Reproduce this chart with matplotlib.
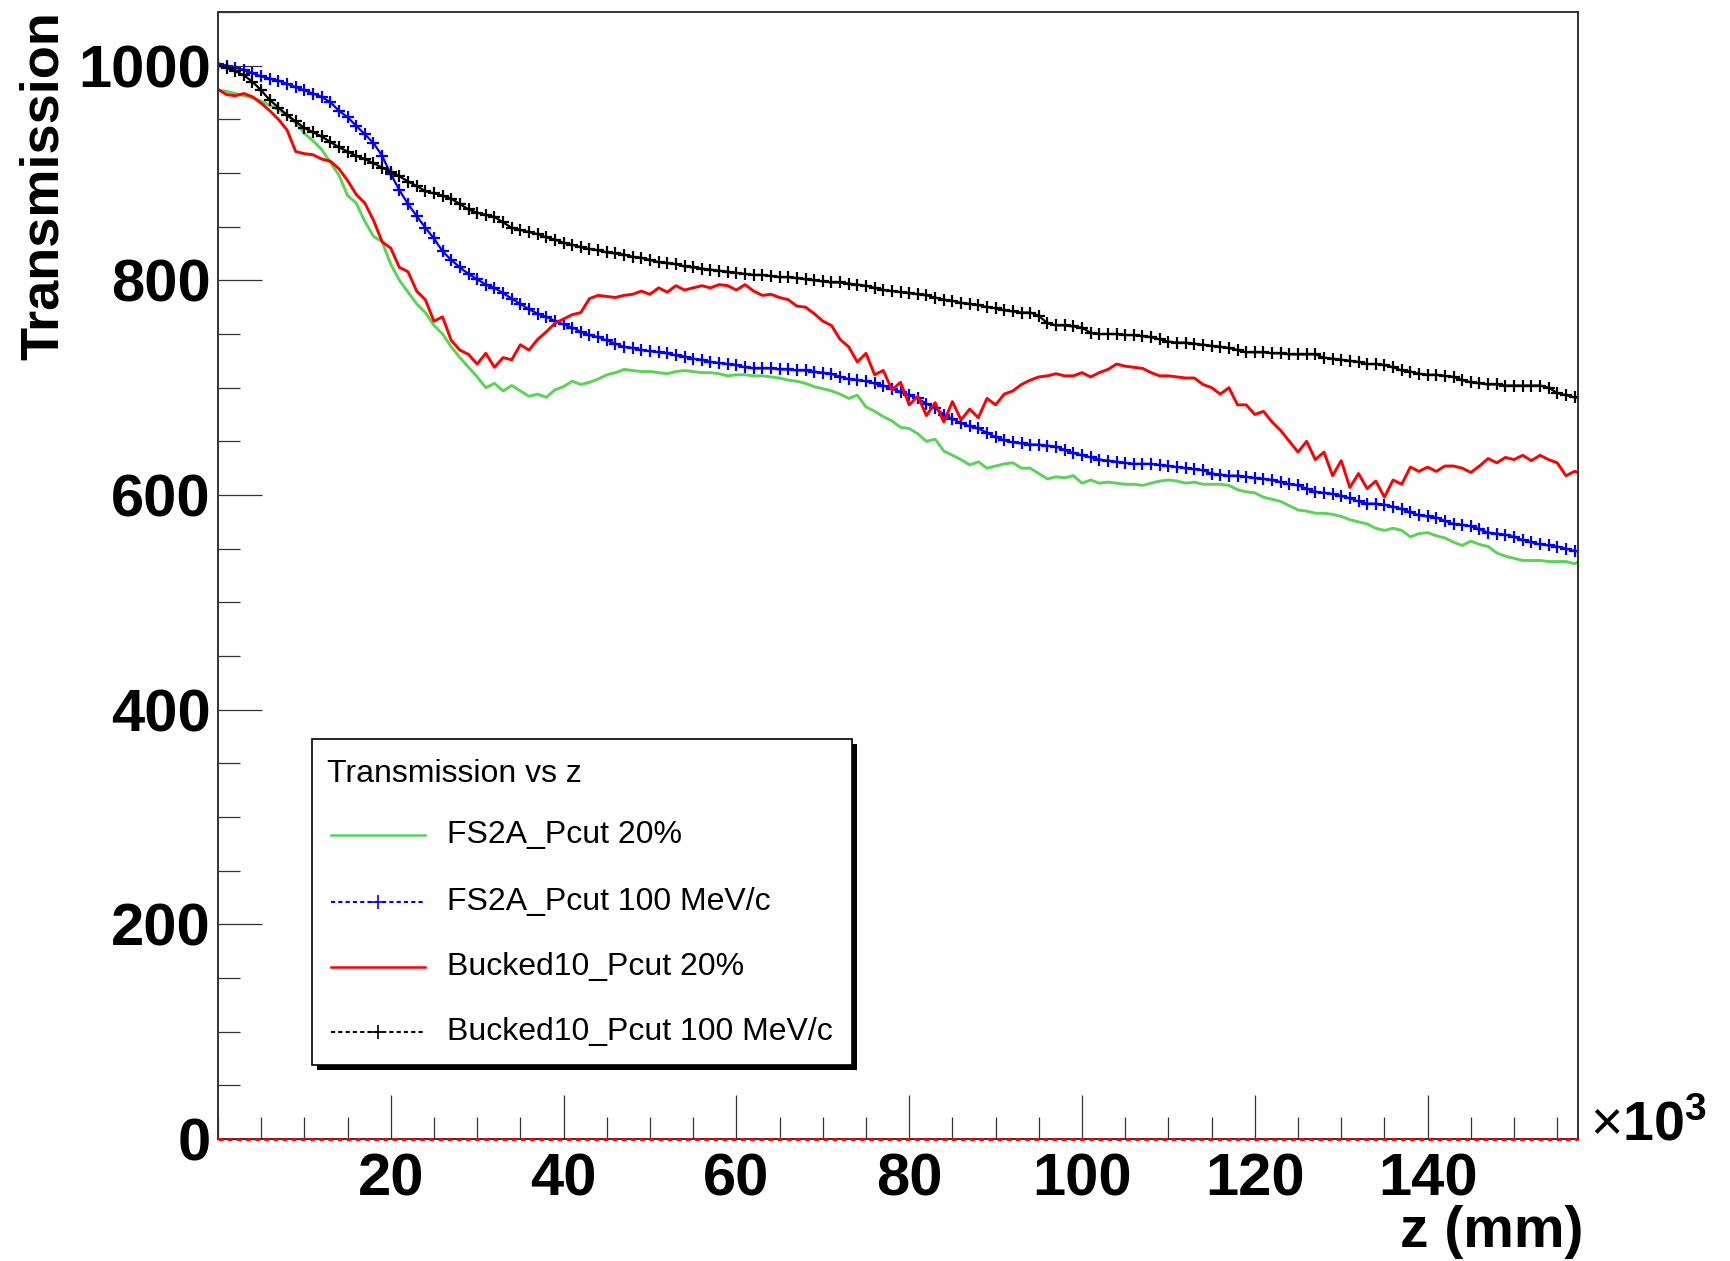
import matplotlib
matplotlib.use('Agg')
import matplotlib.pyplot as plt
from matplotlib.lines import Line2D
from matplotlib.patches import Rectangle
from matplotlib.ticker import MultipleLocator

plt.rcParams['font.family'] = ['Liberation Sans', 'DejaVu Sans']
plt.rcParams['mathtext.fontset'] = 'custom'
plt.rcParams['mathtext.rm'] = 'Liberation Sans'
plt.rcParams['mathtext.bf'] = 'Liberation Sans:bold'

# z position in units of 10^3 mm, one sample per unit
z = list(range(159))

fs2a_20 = [
    977, 976, 974, 972, 970, 967, 963, 959, 954, 947, 937, 930, 922, 910, 898, 879,
    872, 855, 841, 836, 815, 800, 789, 778, 770, 758, 750, 738, 728, 719, 710, 700,
    704, 697, 702, 697, 692, 694, 691, 698, 701, 706, 703, 705, 708, 712, 714, 717,
    716, 715, 715, 714, 713, 715, 716, 715, 714, 714, 713, 711, 712, 712, 711,
    711, 710, 709, 707, 706, 704, 701, 699, 697, 694, 690, 693, 682, 678, 673, 669,
    663, 662, 657, 650, 652, 641, 637, 633, 628, 631, 625, 627, 629, 630, 625, 625,
    620, 615, 617, 616, 618, 611, 614, 611, 612, 611, 610, 610, 609, 611, 613, 614,
    613, 611, 612, 610, 610, 610, 609, 605, 603, 602, 598, 596, 594, 590, 586,
    585, 583, 583, 582, 580, 577, 575, 573, 569, 567, 569, 567, 561, 564, 565, 562,
    560, 556, 553, 557, 554, 552, 546, 543, 541, 539, 539, 539, 538, 538, 538, 536, 540,
]

fs2a_100 = [
    1002, 1000, 998, 996, 993, 990, 988, 986, 983, 980, 977, 974, 971, 966, 958, 952,
    944, 936, 928, 916, 899, 884, 871, 860, 849, 839, 827, 819, 812, 806, 801, 796,
    793, 788, 783, 778, 773, 769, 766, 762, 759, 756, 752, 749, 747, 744, 741, 738,
    737, 735, 734, 733, 732, 730, 729, 727, 726, 724, 723, 722, 721, 719, 718,
    718, 718, 717, 717, 716, 716, 715, 714, 713, 710, 708, 707, 706, 704, 702, 699,
    696, 693, 690, 685, 681, 675, 671, 667, 664, 662, 658, 654, 651, 649, 648, 647,
    647, 646, 645, 642, 639, 637, 635, 633, 632, 631, 630, 629, 629, 629, 628, 627,
    626, 625, 624, 623, 620, 619, 618, 618, 617, 616, 615, 614, 612, 610, 609,
    606, 603, 602, 601, 599, 597, 594, 592, 592, 591, 589, 587, 584, 581, 580, 579,
    576, 573, 572, 571, 568, 565, 564, 563, 561, 558, 556, 554, 553, 552, 550, 548, 547,
]

bucked_20 = [
    978, 973, 972, 974, 971, 965, 958, 950, 940, 920, 918, 917, 913, 911, 904, 893,
    880, 872, 856, 836, 830, 812, 808, 790, 782, 762, 766, 744, 735, 731, 722, 732,
    719, 728, 726, 740, 735, 745, 752, 760, 764, 768, 770, 783, 786, 785, 784, 786,
    787, 790, 787, 793, 789, 795, 791, 793, 795, 793, 796, 795, 791, 796, 790,
    786, 787, 784, 782, 776, 775, 769, 762, 758, 745, 738, 724, 732, 712, 716, 698,
    705, 684, 692, 674, 686, 668, 687, 670, 680, 672, 690, 684, 694, 697, 703, 707,
    710, 711, 713, 711, 711, 714, 710, 714, 717, 722, 720, 719, 718, 714, 711, 711,
    710, 709, 709, 703, 700, 694, 700, 684, 684, 675, 678, 668, 660, 650, 640,
    650, 633, 640, 618, 632, 607, 620, 606, 613, 598, 614, 610, 626, 622, 626, 622,
    627, 627, 625, 621, 627, 634, 630, 635, 633, 637, 632, 637, 633, 630, 618, 622, 620,
]

bucked_100 = [
    1000, 998, 995, 991, 985, 977, 968, 961, 954, 948, 942, 938, 934, 929, 924, 920,
    916, 913, 909, 905, 901, 897, 892, 888, 883, 881, 879, 876, 871, 866, 863, 861,
    859, 854, 849, 847, 845, 843, 840, 838, 835, 833, 831, 829, 828, 826, 825, 824,
    822, 821, 819, 817, 816, 815, 813, 812, 811, 810, 809, 808, 807, 806, 805,
    805, 804, 803, 803, 802, 801, 800, 799, 798, 798, 797, 796, 795, 793, 791, 790,
    789, 788, 787, 786, 784, 782, 781, 779, 778, 777, 775, 774, 772, 771, 770, 770,
    767, 760, 758, 758, 757, 756, 751, 750, 750, 750, 749, 749, 748, 747, 745, 743,
    742, 742, 741, 740, 739, 738, 737, 735, 733, 733, 733, 732, 732, 731, 731,
    731, 731, 728, 727, 726, 725, 724, 722, 722, 721, 719, 716, 715, 713, 712, 712,
    711, 710, 707, 705, 704, 703, 703, 702, 702, 702, 702, 702, 700, 695, 693, 691, 690,
]

labels = ['FS2A_Pcut 20%', 'FS2A_Pcut 100 MeV/c', 'Bucked10_Pcut 20%', 'Bucked10_Pcut 100 MeV/c']
series = [fs2a_20, fs2a_100, bucked_20, bucked_100]
colors = ['#59d454', '#0000ff', '#ff0000', '#000000']
with_markers = [False, True, False, True]

fig = plt.figure(figsize=(17.31, 12.61), dpi=100)
ax = fig.add_axes([0.1259, 0.0967, 0.7857, 0.8938])

for vals, col, mk in zip(series, colors, with_markers):
    if mk:
        ax.plot(z, vals, color=col, lw=1.6, ls='-', marker='+', ms=9, mew=1.6)
    else:
        ax.plot(z, vals, color=col, lw=2.1)

ax.axhline(0, color='red', ls=(0, (1.5, 1.5)), lw=2.2, clip_on=False, zorder=5)

ax.set_xlim(0, 157.4)
ax.set_ylim(0, 1050)
ax.set_xticks(range(20, 141, 20))
ax.xaxis.set_minor_locator(MultipleLocator(5))
ax.set_yticks(range(0, 1001, 200))
ax.yaxis.set_minor_locator(MultipleLocator(50))
ax.tick_params(which='both', direction='in', top=False, right=False, color='#333333')
ax.tick_params(which='major', length=32, width=0.9)
ax.tick_params(which='minor', length=16, width=0.9)
ax.tick_params(axis='x', pad=10, labelsize=43)
ax.tick_params(axis='y', pad=5, labelsize=43)
for lab in ax.get_xticklabels() + ax.get_yticklabels():
    lab.set_fontweight('bold')
for sp in ax.spines.values():
    sp.set_color('#333333')
    sp.set_linewidth(1.4)

fig.text(0.0255, 0.9913, 'Transmission', rotation=90, ha='center', va='top',
         fontsize=39, fontweight='bold')
fig.text(0.915, 0.011, 'z (mm)', ha='right', va='baseline', fontsize=41, fontweight='bold')
fig.text(0.9186, 0.0955, r'$\times\mathbf{10^{3}}$', ha='left', va='baseline', fontsize=40)

# legend box with drop shadow
lx, ly, lw_, lh = 0.1802, 0.1554, 0.312, 0.2586
fig.add_artist(Rectangle((lx + 0.003, ly - 0.004), lw_, lh, transform=fig.transFigure,
                         fc='black', ec='none', zorder=5))
fig.add_artist(Rectangle((lx, ly), lw_, lh, transform=fig.transFigure,
                         fc='white', ec='black', lw=1.2, zorder=6))
fig.text(0.1889, 0.3862, 'Transmission vs z', va='center', fontsize=23, zorder=7)
rows = [0.3375, 0.2845, 0.2330, 0.1815]
for y, lab, col, mk in zip(rows, labels, colors, with_markers):
    if mk:
        fig.add_artist(Line2D([0.1912, 0.2455], [y, y], transform=fig.transFigure,
                              color=col, lw=1.5, ls=(0, (2, 1.5)), zorder=7))
        fig.add_artist(Line2D([0.2184], [y], transform=fig.transFigure, color=col,
                              marker='+', ms=10, mew=1.2, ls='none', zorder=7))
    else:
        fig.add_artist(Line2D([0.1912, 0.2455], [y, y], transform=fig.transFigure,
                              color=col, lw=1.8, zorder=7))
    fig.text(0.2582, y, lab, va='center', fontsize=23, zorder=7)

fig.savefig('out.png', dpi=100)
